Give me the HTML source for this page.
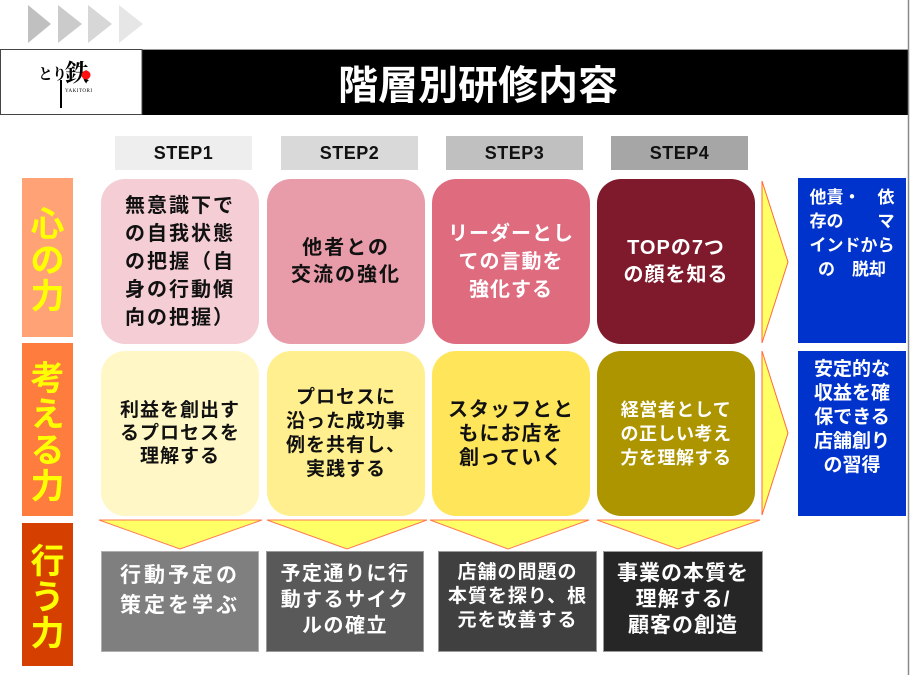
<!DOCTYPE html>
<html><head><meta charset="utf-8"><style>
*{margin:0;padding:0;box-sizing:border-box}
html,body{width:910px;height:675px;overflow:hidden;background:#fff}
body{position:relative;font-family:"Liberation Sans","Noto Sans CJK JP",sans-serif}
.a{position:absolute}
.step{position:absolute;top:136px;height:34px;width:137px;text-align:center;font-weight:bold;font-size:18px;line-height:34px;color:#111;letter-spacing:0.5px}
.lab{position:absolute;left:22px;width:51px;display:flex;align-items:center;justify-content:center;text-align:center;color:#ffff00;font-size:34px;line-height:36px;font-weight:bold;font-family:"Noto Sans CJK JP",sans-serif}
.rb{position:absolute;width:158px;border-radius:24px;display:flex;align-items:center;justify-content:center;text-align:center;font-weight:bold;white-space:nowrap;font-family:"Liberation Sans","Noto Sans CJK JP",sans-serif}
.r1{top:179px;height:165px;font-size:20px;line-height:28px;letter-spacing:1px}
.r2{top:351px;height:165px;font-size:19px;line-height:24px;letter-spacing:1px}
.bb{position:absolute;top:551px;height:101px;text-align:center;color:#fff;font-weight:bold;white-space:nowrap;border:1px solid #9a9a9a}
.blue{position:absolute;left:798px;width:108px;background:#0033cc;color:#fff;font-weight:bold;text-align:center;white-space:nowrap}
</style></head><body>

<svg class="a" style="left:0;top:0" width="910" height="675" viewBox="0 0 910 675">
  <polygon points="28,5 51,24 28,43" fill="#c0c0c0"/>
  <polygon points="58,5 82,24 58,43" fill="#cbcbcb"/>
  <polygon points="88,5 112,24 88,43" fill="#d7d7d7"/>
  <polygon points="119,5 143,24 119,43" fill="#e6e6e6"/>
  <rect x="142" y="49" width="766" height="66" fill="#000"/>
  <line x1="0" y1="49.5" x2="908" y2="49.5" stroke="#9a9a9a" stroke-width="1"/>
  <rect x="0.5" y="49.5" width="141.5" height="65" fill="#fff" stroke="#444" stroke-width="1"/>
  <line x1="908.5" y1="0" x2="908.5" y2="675" stroke="#8a8a8a" stroke-width="1.5"/>
  <polygon points="762,181 788,262 762,343" fill="#ffff66" stroke="#ff6a3d" stroke-width="1"/>
  <polygon points="762,351 788,433 762,515" fill="#ffff66" stroke="#ff6a3d" stroke-width="1"/>
  <polygon points="99,520 262,520 180,549" fill="#ffff66" stroke="#ff7a50" stroke-width="1"/>
  <polygon points="267,520 427,520 347,549" fill="#ffff66" stroke="#ff7a50" stroke-width="1"/>
  <polygon points="430,520 589,520 508,549" fill="#ffff66" stroke="#ff7a50" stroke-width="1"/>
  <polygon points="597,520 760,520 678,549" fill="#ffff66" stroke="#ff7a50" stroke-width="1"/>
  <line x1="61" y1="80" x2="61" y2="108" stroke="#000" stroke-width="2"/>
</svg>

<div class="a" style="left:38px;top:64px;font-family:'Noto Serif CJK SC',serif;font-size:15px;line-height:20px;color:#000;font-weight:bold;letter-spacing:-1px;white-space:nowrap">とり</div>
<div class="a" style="left:65px;top:57px;font-family:'Noto Serif CJK SC',serif;font-size:24px;line-height:28px;color:#000;font-weight:bold">鉄</div>
<svg class="a" style="left:0;top:0" width="100" height="100"><circle cx="86" cy="75" r="4.5" fill="#ff1010"/></svg>
<div class="a" style="left:65px;top:89px;font-family:'Liberation Serif',serif;font-size:5px;line-height:6px;color:#000;letter-spacing:0.5px">YAKITORI</div>

<div class="a" style="left:338px;top:58px;font-size:40px;line-height:48px;color:#fff;font-weight:bold;font-family:'Noto Sans CJK JP',sans-serif;white-space:nowrap">階層別研修内容</div>

<div class="step" style="left:115px;background:#eeeeee">STEP1</div>
<div class="step" style="left:281px;background:#d9d9d9">STEP2</div>
<div class="step" style="left:446px;background:#c0c0c0">STEP3</div>
<div class="step" style="left:611px;background:#a6a6a6">STEP4</div>

<div class="lab" style="top:178px;height:159px;background:#ffa377">心<br>の<br>力</div>
<div class="lab" style="top:343px;height:173px;background:#ff7c3f">考<br>え<br>る<br>力</div>
<div class="lab" style="top:523px;height:143px;background:#d54000">行<br>う<br>力</div>

<div class="rb r1" style="left:101px;background:#f4cdd5;color:#111;letter-spacing:2px">無意識下で<br>の自我状態<br>の把握（自<br>身の行動傾<br>向の把握）</div>
<div class="rb r1" style="left:267px;background:#e89ba8;color:#111;letter-spacing:2px;line-height:27px">他者との<br>交流の強化</div>
<div class="rb r1" style="left:432px;background:#de6b7e;color:#fff">リーダーとし<br>ての言動を<br>強化する</div>
<div class="rb r1" style="left:597px;background:#7f1a2c;color:#fff;line-height:27px">TOPの7つ<br>の顔を知る</div>

<div class="rb r2" style="left:101px;background:#fff7c6;color:#111;line-height:23px">利益を創出す<br>るプロセスを<br>理解する</div>
<div class="rb r2" style="left:267px;background:#ffef8e;color:#111">プロセスに<br>沿った成功事<br>例を共有し、<br>実践する</div>
<div class="rb r2" style="left:432px;background:#ffe55a;color:#111;font-size:20px">スタッフとと<br>もにお店を<br>創っていく</div>
<div class="rb r2" style="left:597px;background:#ad9500;color:#fff;font-size:18px;letter-spacing:0.5px">経営者として<br>の正しい考え<br>方を理解する</div>

<div class="blue" style="top:178px;height:165px;font-size:17px;line-height:24px;padding-top:8px">他責・　依<br>存の　　マ<br>インドから<br>の　脱却</div>
<div class="blue" style="top:351px;height:165px;font-size:19px;line-height:24px;padding-top:7px">安定的な<br>収益を確<br>保できる<br>店舗創り<br>の習得</div>

<div class="bb" style="left:101px;width:158px;background:#7f7f7f;font-size:21px;line-height:30px;letter-spacing:3px;padding-top:9px;border-color:#b0b0b0">行動予定の<br>策定を学ぶ</div>
<div class="bb" style="left:266px;width:158px;background:#595959;font-size:20px;line-height:26px;letter-spacing:1.5px;padding-top:9px">予定通りに行<br>動するサイク<br>ルの確立</div>
<div class="bb" style="left:438px;width:159px;background:#404040;font-size:19px;line-height:24px;letter-spacing:1px;padding-top:9px">店舗の問題の<br>本質を探り、根<br>元を改善する</div>
<div class="bb" style="left:603px;width:160px;background:#262626;font-size:21px;line-height:26px;letter-spacing:1px;padding-top:9px">事業の本質を<br>理解する/<br>顧客の創造</div>

</body></html>
